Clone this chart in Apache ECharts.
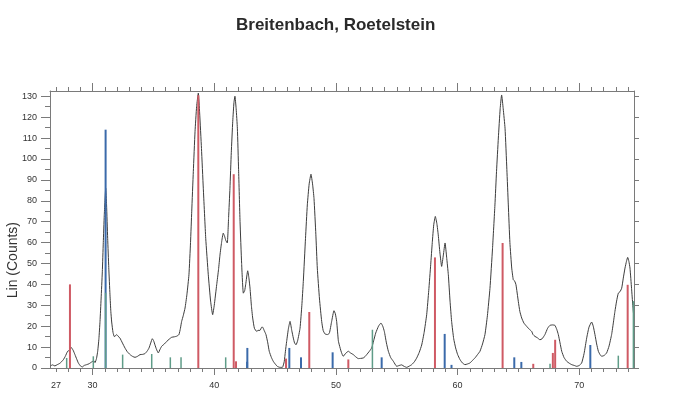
<!DOCTYPE html>
<html>
<head>
<meta charset="utf-8">
<script src="https://cdn.jsdelivr.net/npm/echarts@6/dist/echarts.min.js"></script>
<style>
html,body{margin:0;padding:0;background:#fff;}
#chart{width:700px;height:394px;}
</style>
</head>
<body>
<div id="chart"></div>
<script>
// ---- Data ----
const titleText = 'Breitenbach, Roetelstein';
const yAxisTitle = 'Lin (Counts)';

// Diffractogram (2-Theta, counts)
const scanTheta = [26.55,26.7,26.9,27.1,27.3,27.45,27.6,27.75,27.95,28.1,28.23,28.4,28.55,28.7,28.83,29.0,29.16,29.3,29.51,29.7,29.93,30.1,30.2,30.32,30.42,30.52,30.61,30.7,30.8,30.88,30.96,31.08,31.15,31.24,31.33,31.43,31.5,31.57,31.68,31.79,31.9,31.98,32.1,32.25,32.45,32.66,32.85,33.08,33.3,33.49,33.7,33.9,34.1,34.31,34.5,34.64,34.78,34.91,35.02,35.13,35.25,35.4,35.55,35.68,35.9,36.09,36.3,36.5,36.7,36.91,37.1,37.22,37.32,37.45,37.6,37.75,37.92,38.05,38.15,38.28,38.42,38.55,38.69,38.8,38.95,39.1,39.3,39.51,39.7,39.87,40.0,40.2,40.35,40.47,40.6,40.74,40.85,40.95,41.07,41.18,41.29,41.4,41.52,41.62,41.7,41.8,41.9,42.0,42.12,42.25,42.39,42.5,42.58,42.75,42.85,42.94,43.05,43.16,43.3,43.49,43.6,43.76,43.9,43.98,44.1,44.25,44.4,44.52,44.7,44.85,45.0,45.18,45.4,45.6,45.75,45.85,45.95,46.1,46.23,46.37,46.5,46.6,46.72,46.85,47.05,47.2,47.32,47.5,47.65,47.8,47.95,48.08,48.2,48.35,48.47,48.65,48.83,48.95,49.1,49.3,49.46,49.65,49.84,49.95,50.06,50.2,50.28,50.45,50.6,50.8,51.02,51.2,51.43,51.6,51.84,52.05,52.25,52.4,52.53,52.75,52.94,53.1,53.27,53.5,53.7,53.85,53.98,54.15,54.31,54.5,54.72,55.0,55.2,55.4,55.6,55.82,56.0,56.23,56.45,56.64,56.85,57.05,57.25,57.46,57.63,57.79,57.92,58.04,58.17,58.3,58.41,58.55,58.69,58.83,58.97,59.1,59.24,59.38,59.51,59.68,59.84,60.0,60.2,60.4,60.61,60.8,61.02,61.2,61.43,61.65,61.84,62.05,62.25,62.45,62.66,62.87,63.07,63.2,63.35,63.5,63.62,63.75,63.9,64.05,64.17,64.3,64.45,64.58,64.7,64.8,64.99,65.12,65.27,65.45,65.68,65.9,66.09,66.2,66.36,66.55,66.77,66.95,67.18,67.4,67.59,67.8,68.0,68.15,68.28,68.42,68.56,68.75,68.97,69.2,69.38,69.6,69.79,70.0,70.2,70.4,70.61,70.8,71.02,71.15,71.29,71.43,71.57,71.7,71.84,72.05,72.25,72.45,72.66,72.8,72.93,73.07,73.21,73.35,73.49,73.62,73.76,73.88,73.98,74.08,74.17,74.3,74.4,74.46];
const scanCounts = [1.0,1.5,1.0,1.6,2.2,3.0,4.0,5.5,8.0,8.5,9.9,8.5,6.4,4.2,2.4,1.0,0.5,1.2,1.6,2.0,2.9,3.5,2.6,4.5,8,14,22.3,33,46,60,73,86,78,62,48,35,27,22,17,15,15.5,16,15.2,14.3,12,9.6,7.8,6.4,5.5,5.1,5.6,6.4,6.5,6.9,8.2,9.6,12,14,13,11,9,7.2,9,10.4,11.5,12.7,13.8,14.7,14.9,15.2,16,19,22.3,25,28.7,35,44.6,60,75,94,113,125,131.5,122,105,86,62,44.6,32,25.5,30,39.8,47,54,60,64.5,63,61,59.8,72,86,103,118,127,130,124,114.7,95,70,50,35.8,37,39.8,46.5,43,38.2,30,23.9,19,17.5,18,18,19.5,19.5,18,16,12,8,5,3.2,2,0.8,0.3,0.3,3,8,12.7,19,22.3,18,14.3,12,11.1,13,19,30,41.4,62,78,88,92.7,88,81,64,47.8,33,22.3,18,16.3,16,16.6,22.3,27.4,26,22.3,13,11,7.5,5.6,7,8,7.2,6.4,5.5,4.5,4.6,4.8,5.5,6.4,8,9.6,13,16.7,20,21.5,20,17.5,12,8,5,3.2,0.8,1.2,1.5,0.8,0.3,0.8,1.6,3,4.8,7.5,11,17,25.5,37,49.4,60,68.5,72.5,69,63.7,55,48.6,54,59.8,53,44.6,32,22.3,14,9.6,6.5,4,2.4,1.6,1.9,2.4,3.5,4.8,6.5,8,11.5,16,25,38,57,78,94,110,124,130.6,124,114.7,95,78,60,47.8,42.2,41.5,39.8,31.9,27,23.9,21.5,19.9,18.5,17.5,16,15.1,14.5,13.5,14,16,19,20.4,20.6,20.4,18.5,16,12,8,5,3.2,2.2,1.6,1.2,0.8,1.2,2.4,7,14.3,19.5,22,20,16,11.5,8,6.5,5.6,6,7.2,10.5,16,21.5,27,32,35.8,36.5,38.2,43,47.8,51,52.9,51,47.8,38,30,26];

// Reference stick patterns (2-Theta, relative height)
const redTheta  = [28.14, 38.69, 41.60, 41.79, 45.90, 47.81, 51.02, 58.14, 63.70, 66.22, 67.83, 68.02, 73.98];
const redHeight = [40, 130.5, 92.7, 3.2, 4.5, 26.8, 4.1, 52.9, 59.8, 2.0, 7.2, 13.5, 39.8];
const blueTheta  = [31.07, 42.70, 42.72, 46.17, 47.13, 49.73, 53.76, 58.94, 59.50, 64.66, 65.24, 70.91];
const blueHeight = [114, 3.0, 9.6, 9.6, 5.1, 7.5, 5.1, 16.3, 1.5, 5.1, 2.9, 11];
const greenTheta  = [27.87, 30.06, 31.07, 32.47, 34.86, 36.39, 37.27, 40.94, 53.00, 67.60, 73.21, 74.45];
const greenHeight = [4.8, 5.6, 36, 6.4, 6.7, 5.1, 5.1, 5.1, 18.3, 2.0, 5.9, 32];

// Axis ticks / labels
const xLabelValues = [27, 30, 40, 50, 60, 70];
const xMinorTicks = []; for (let v = 27; v <= 74; v++) xMinorTicks.push(v);
const xMajorTicks = [30, 40, 50, 60, 70];
const yLabelValues = [0,10,20,30,40,50,60,70,80,90,100,110,120,130];
const yMinorTicks = []; for (let v = 0; v <= 130; v += 5) yMinorTicks.push(v);

// ---- Chart ----
const X_MIN = 26.5, X_MAX = 74.5, Y_MIN = 0, Y_MAX = 132.5;
const frame = '#7a7a7a';
const chart = echarts.init(document.getElementById('chart'), null, {renderer: 'canvas'});

function xAx(position, ticks, len, showLine, labels) {
  return {
    type: 'value', position: position, min: X_MIN, max: X_MAX,
    axisLine: {show: showLine, onZero: false, lineStyle: {color: frame, width: 1}},
    axisTick: {show: true, inside: false, length: len, customValues: ticks, lineStyle: {color: frame, width: 1}},
    axisLabel: labels ? {show: true, customValues: labels, fontSize: 9, color: '#333', margin: 13, fontFamily: 'Liberation Sans, Arial, sans-serif'} : {show: false},
    splitLine: {show: false}
  };
}
function yAx(position, ticks, len, showLine, labels) {
  return {
    type: 'value', position: position, min: Y_MIN, max: Y_MAX,
    axisLine: {show: showLine, onZero: false, lineStyle: {color: frame, width: 1}},
    axisTick: {show: true, inside: false, length: len, customValues: ticks, lineStyle: {color: frame, width: 1}},
    axisLabel: labels ? {show: true, customValues: labels, fontSize: 9, color: '#333', margin: 13, fontFamily: 'Liberation Sans, Arial, sans-serif'} : {show: false},
    splitLine: {show: false}
  };
}

function stickSeries(name, xs, hs, color, width, z) {
  return {
    type: 'custom', name: name, xAxisIndex: 0, yAxisIndex: 0, z: z,
    data: xs.map((x, i) => [x, hs[i]]),
    encode: {x: 0, y: 1},
    renderItem: function (params, api) {
      const top = api.coord([api.value(0), api.value(1)]);
      const bot = api.coord([api.value(0), 0]);
      return {type: 'line', shape: {x1: top[0], y1: top[1], x2: bot[0], y2: bot[1]},
              style: {stroke: color, lineWidth: width}};
    }
  };
}

const option = {
  animation: false,
  backgroundColor: '#ffffff',
  title: {
    text: titleText, left: 231, top: 12,
    textStyle: {fontSize: 17, fontWeight: 'bold', color: '#2a2a2a', fontFamily: 'Liberation Sans, Arial, sans-serif'}
  },
  grid: {left: 50, right: 66, top: 91, bottom: 26, containLabel: false},
  xAxis: [
    xAx('bottom', xMinorTicks, 4, true, xLabelValues),
    xAx('bottom', xMajorTicks, 7, false, null),
    xAx('top', xMinorTicks, 4, true, null),
    xAx('top', xMajorTicks, 8, false, null)
  ],
  yAxis: [
    yAx('left', yMinorTicks, 5, true, yLabelValues),
    yAx('left', yLabelValues, 9, false, null),
    yAx('right', yLabelValues, 5, true, null)
  ],
  graphic: [{
    type: 'text', left: 6, top: 222,
    rotation: Math.PI / 2,
    style: {text: yAxisTitle, fontSize: 14, fill: '#333', fontFamily: 'Liberation Sans, Arial, sans-serif'}
  }],
  series: [
    {
      type: 'line', name: 'scan', xAxisIndex: 0, yAxisIndex: 0,
      data: scanTheta.map((x, i) => [x, scanCounts[i]]),
      symbol: 'none', smooth: 0.15,
      lineStyle: {color: '#3c3c3c', width: 1}, z: 2
    },
    stickSeries('red', redTheta, redHeight, '#cf5a64', 2, 3),
    stickSeries('blue', blueTheta, blueHeight, '#3b6aaa', 2, 4),
    stickSeries('green', greenTheta, greenHeight, '#5f9c88', 1.5, 5)
  ]
};
chart.setOption(option);
</script>
</body>
</html>
